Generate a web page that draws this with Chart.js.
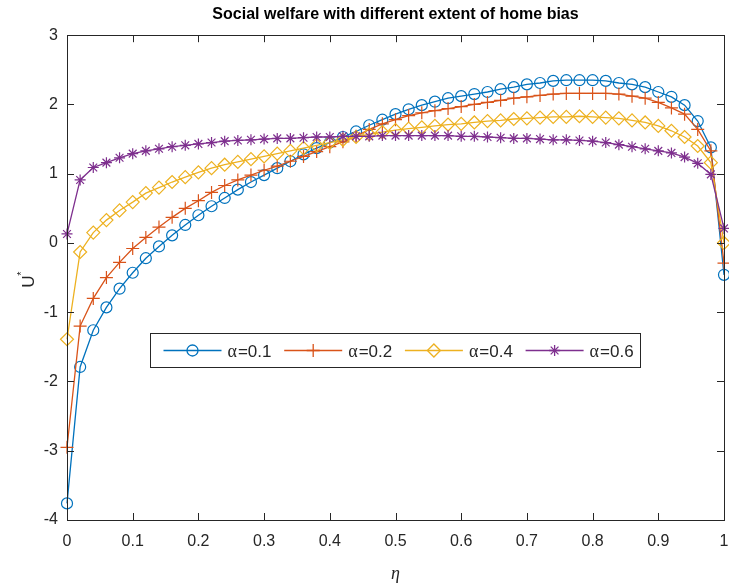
<!DOCTYPE html>
<html>
<head>
<meta charset="utf-8">
<script src="https://cdn.jsdelivr.net/npm/chart.js@4.4.1/dist/chart.umd.min.js"></script>
<style>
  html, body { margin: 0; padding: 0; background: #fff; }
  #wrap { width: 729px; height: 587px; }
</style>
</head>
<body>
<div id="wrap"><canvas id="welfareChart" width="729" height="587"></canvas></div>
<script>
// eta grid (x axis)
const eta = [0, 0.02, 0.04, 0.06, 0.08, 0.1, 0.12, 0.14, 0.16, 0.18,
             0.2, 0.22, 0.24, 0.26, 0.28, 0.3, 0.32, 0.34, 0.36, 0.38,
             0.4, 0.42, 0.44, 0.46, 0.48, 0.5, 0.52, 0.54, 0.56, 0.58,
             0.6, 0.62, 0.64, 0.66, 0.68, 0.7, 0.72, 0.74, 0.76, 0.78,
             0.8, 0.82, 0.84, 0.86, 0.88, 0.9, 0.92, 0.94, 0.96, 0.98, 1];

// U* for each alpha
const alpha01 = [-3.76, -1.79, -1.26, -0.93, -0.66, -0.43, -0.22, -0.05, 0.11, 0.26,
                 0.40, 0.53, 0.65, 0.77, 0.88, 0.98, 1.08, 1.18, 1.28, 1.37,
                 1.45, 1.53, 1.61, 1.70, 1.78, 1.86, 1.93, 1.99, 2.04, 2.09,
                 2.12, 2.15, 2.18, 2.22, 2.25, 2.29, 2.31, 2.34, 2.35, 2.35,
                 2.35, 2.34, 2.31, 2.29, 2.25, 2.18, 2.11, 1.99, 1.76, 1.38, -0.46];
const alpha02 = [-2.95, -1.20, -0.80, -0.50, -0.28, -0.08, 0.08, 0.23, 0.37, 0.50,
                 0.61, 0.73, 0.83, 0.91, 0.98, 1.05, 1.11, 1.18, 1.25, 1.32,
                 1.39, 1.46, 1.54, 1.64, 1.72, 1.78, 1.84, 1.88, 1.91, 1.94,
                 1.97, 2.00, 2.03, 2.06, 2.09, 2.11, 2.13, 2.15, 2.16, 2.16,
                 2.16, 2.16, 2.15, 2.12, 2.09, 2.03, 1.95, 1.86, 1.64, 1.33, -0.29];
const alpha04 = [-1.39, -0.13, 0.15, 0.33, 0.47, 0.59, 0.72, 0.80, 0.88, 0.95,
                 1.02, 1.08, 1.13, 1.17, 1.21, 1.25, 1.29, 1.33, 1.37, 1.41,
                 1.45, 1.49, 1.53, 1.57, 1.60, 1.63, 1.65, 1.67, 1.69, 1.71,
                 1.72, 1.74, 1.76, 1.77, 1.79, 1.80, 1.81, 1.82, 1.82, 1.83,
                 1.82, 1.81, 1.80, 1.77, 1.74, 1.69, 1.62, 1.53, 1.40, 1.16, 0.00];
const alpha06 = [0.13, 0.91, 1.09, 1.16, 1.23, 1.29, 1.33, 1.36, 1.39, 1.41,
                 1.43, 1.45, 1.47, 1.48, 1.49, 1.50, 1.51, 1.51, 1.52, 1.53,
                 1.53, 1.54, 1.54, 1.54, 1.55, 1.55, 1.55, 1.55, 1.55, 1.55,
                 1.54, 1.54, 1.53, 1.52, 1.51, 1.51, 1.50, 1.49, 1.49, 1.48,
                 1.47, 1.45, 1.42, 1.39, 1.36, 1.33, 1.30, 1.24, 1.15, 0.99, 0.21];

const seriesLabels = ['0.1', '0.2', '0.4', '0.6'];
const xTicks = [0, 0.1, 0.2, 0.3, 0.4, 0.5, 0.6, 0.7, 0.8, 0.9, 1];
const yTicks = [-4, -3, -2, -1, 0, 1, 2, 3];

const AXIS = '#262626';
const SANS = '"Liberation Sans", Arial, sans-serif';
const SERIF = '"Liberation Serif", "Times New Roman", serif';

function toPoints(ys) {
    return eta.map((x, i) => ({ x: x, y: ys[i] }));
}

const styles = [
    { color: '#0072BD', pointStyle: 'circle', radius: 5.5 },
    { color: '#D95319', pointStyle: 'cross', radius: 6.5 },
    { color: '#EDB120', pointStyle: 'rectRot', radius: 6.5 },
    { color: '#7E2F8E', pointStyle: 'star', radius: 5.5 }
];
const allSeries = [alpha01, alpha02, alpha04, alpha06];

const datasets = allSeries.map((ys, i) => ({
    label: '\u03b1=' + seriesLabels[i],
    data: toPoints(ys),
    showLine: true,
    borderColor: styles[i].color,
    borderWidth: 1.3,
    pointStyle: styles[i].pointStyle,
    pointRadius: styles[i].radius,
    pointBorderColor: styles[i].color,
    pointBackgroundColor: 'rgba(0,0,0,0)',
    pointBorderWidth: 1.2,
    clip: false,
    order: allSeries.length - 1 - i // later series on top, like matlab
}));

// box round the axes with inward ticks on all four sides
const axesBox = {
    id: 'axesBox',
    afterDatasetsDraw(chart) {
        const { ctx, chartArea: a, scales } = chart;
        const len = 7;
        ctx.save();
        ctx.strokeStyle = AXIS;
        ctx.lineWidth = 1;
        ctx.beginPath();
        xTicks.forEach(v => {
            const px = Math.round(scales.x.getPixelForValue(v)) + 0.5;
            ctx.moveTo(px, a.bottom); ctx.lineTo(px, a.bottom - len);
            ctx.moveTo(px, a.top); ctx.lineTo(px, a.top + len);
        });
        yTicks.forEach(v => {
            const py = Math.round(scales.y.getPixelForValue(v)) + 0.5;
            ctx.moveTo(a.left, py); ctx.lineTo(a.left + len, py);
            ctx.moveTo(a.right, py); ctx.lineTo(a.right - len, py);
        });
        ctx.stroke();
        ctx.strokeRect(Math.round(a.left) + 0.5, Math.round(a.top) + 0.5,
                       Math.round(a.right - a.left), Math.round(a.bottom - a.top));
        ctx.restore();
    }
};

// axis titles (eta in italic serif, U* with superscript star)
const axisTitles = {
    id: 'axisTitles',
    afterDraw(chart) {
        const { ctx, chartArea: a } = chart;
        ctx.save();
        ctx.fillStyle = AXIS;
        ctx.textAlign = 'center';
        ctx.textBaseline = 'middle';
        ctx.font = 'italic 18px ' + SERIF;
        ctx.fillText('\u03b7', (a.left + a.right) / 2, a.bottom + 54);

        ctx.translate(29, (a.top + a.bottom) / 2 + 4);
        ctx.rotate(-Math.PI / 2);
        ctx.font = '17px ' + SANS;
        ctx.fillText('U', 0, 0);
        ctx.font = '11px ' + SANS;
        ctx.fillText('*', 8, -7);
        ctx.restore();
    }
};

// legend box inside the axes, one row
const inlineLegend = {
    id: 'inlineLegend',
    afterDraw(chart) {
        const { ctx, chartArea: a } = chart;
        const w = a.right - a.left, h = a.bottom - a.top;
        const left = Math.round(a.left + 0.1263 * w) + 0.5;
        const top = Math.round(a.top + 0.614 * h) + 0.5;
        const boxW = 490, boxH = 34;
        const cy = top + boxH / 2;
        ctx.save();
        ctx.fillStyle = '#fff';
        ctx.fillRect(left, top, boxW, boxH);
        ctx.strokeStyle = AXIS;
        ctx.lineWidth = 1;
        ctx.strokeRect(left, top, boxW, boxH);

        styles.forEach((s, i) => {
            const x0 = left + 13 + i * 120.7;
            ctx.strokeStyle = s.color;
            ctx.lineWidth = 1.3;
            ctx.beginPath();
            ctx.moveTo(x0, cy);
            ctx.lineTo(x0 + 58, cy);
            ctx.stroke();
            ctx.fillStyle = 'rgba(0,0,0,0)';
            Chart.helpers.drawPoint(ctx, {
                pointStyle: s.pointStyle, radius: s.radius, rotation: 0, borderWidth: 1.2
            }, x0 + 29, cy);

            ctx.fillStyle = AXIS;
            ctx.textAlign = 'left';
            ctx.textBaseline = 'middle';
            ctx.font = '18px ' + SERIF;
            ctx.fillText('\u03b1', x0 + 64, cy + 2);
            const aw = ctx.measureText('\u03b1').width;
            ctx.font = '17px ' + SANS;
            ctx.fillText('=' + seriesLabels[i], x0 + 64 + aw + 1, cy + 2);
        });
        ctx.restore();
    }
};

const welfareChart = new Chart(document.getElementById('welfareChart'), {
    type: 'scatter',
    data: { datasets: datasets },
    options: {
        responsive: false,
        animation: false,
        devicePixelRatio: 1,
        layout: { autoPadding: false, padding: { left: 0, right: 5, top: 0, bottom: 0 } },
        scales: {
            x: {
                type: 'linear',
                min: 0,
                max: 1,
                grid: { display: false, drawTicks: false },
                border: { display: false },
                afterBuildTicks: scale => { scale.ticks = xTicks.map(v => ({ value: v })); },
                afterFit: scale => {
                    scale.height = 67;
                    scale.paddingLeft = 0;
                    scale.paddingRight = 0;
                },
                ticks: {
                    autoSkip: false,
                    maxRotation: 0,
                    padding: 12,
                    color: AXIS,
                    font: { family: SANS, size: 16 },
                    callback: v => String(+v.toFixed(1))
                }
            },
            y: {
                min: -4,
                max: 3,
                grid: { display: false, drawTicks: false },
                border: { display: false },
                afterBuildTicks: scale => { scale.ticks = yTicks.map(v => ({ value: v })); },
                afterFit: scale => {
                    scale.width = 67;
                    scale.paddingTop = 0;
                    scale.paddingBottom = 0;
                },
                ticks: {
                    padding: 9,
                    color: AXIS,
                    font: { family: SANS, size: 16 },
                    callback: v => String(v)
                }
            }
        },
        plugins: {
            legend: { display: false },
            tooltip: { enabled: false },
            title: {
                display: true,
                fullSize: false,
                text: 'Social welfare with different extent of home bias',
                color: '#000',
                font: { family: SANS, size: 16, weight: 'bold' },
                padding: { top: 5, bottom: 11 }
            }
        }
    },
    plugins: [axesBox, axisTitles, inlineLegend]
});
</script>
</body>
</html>
